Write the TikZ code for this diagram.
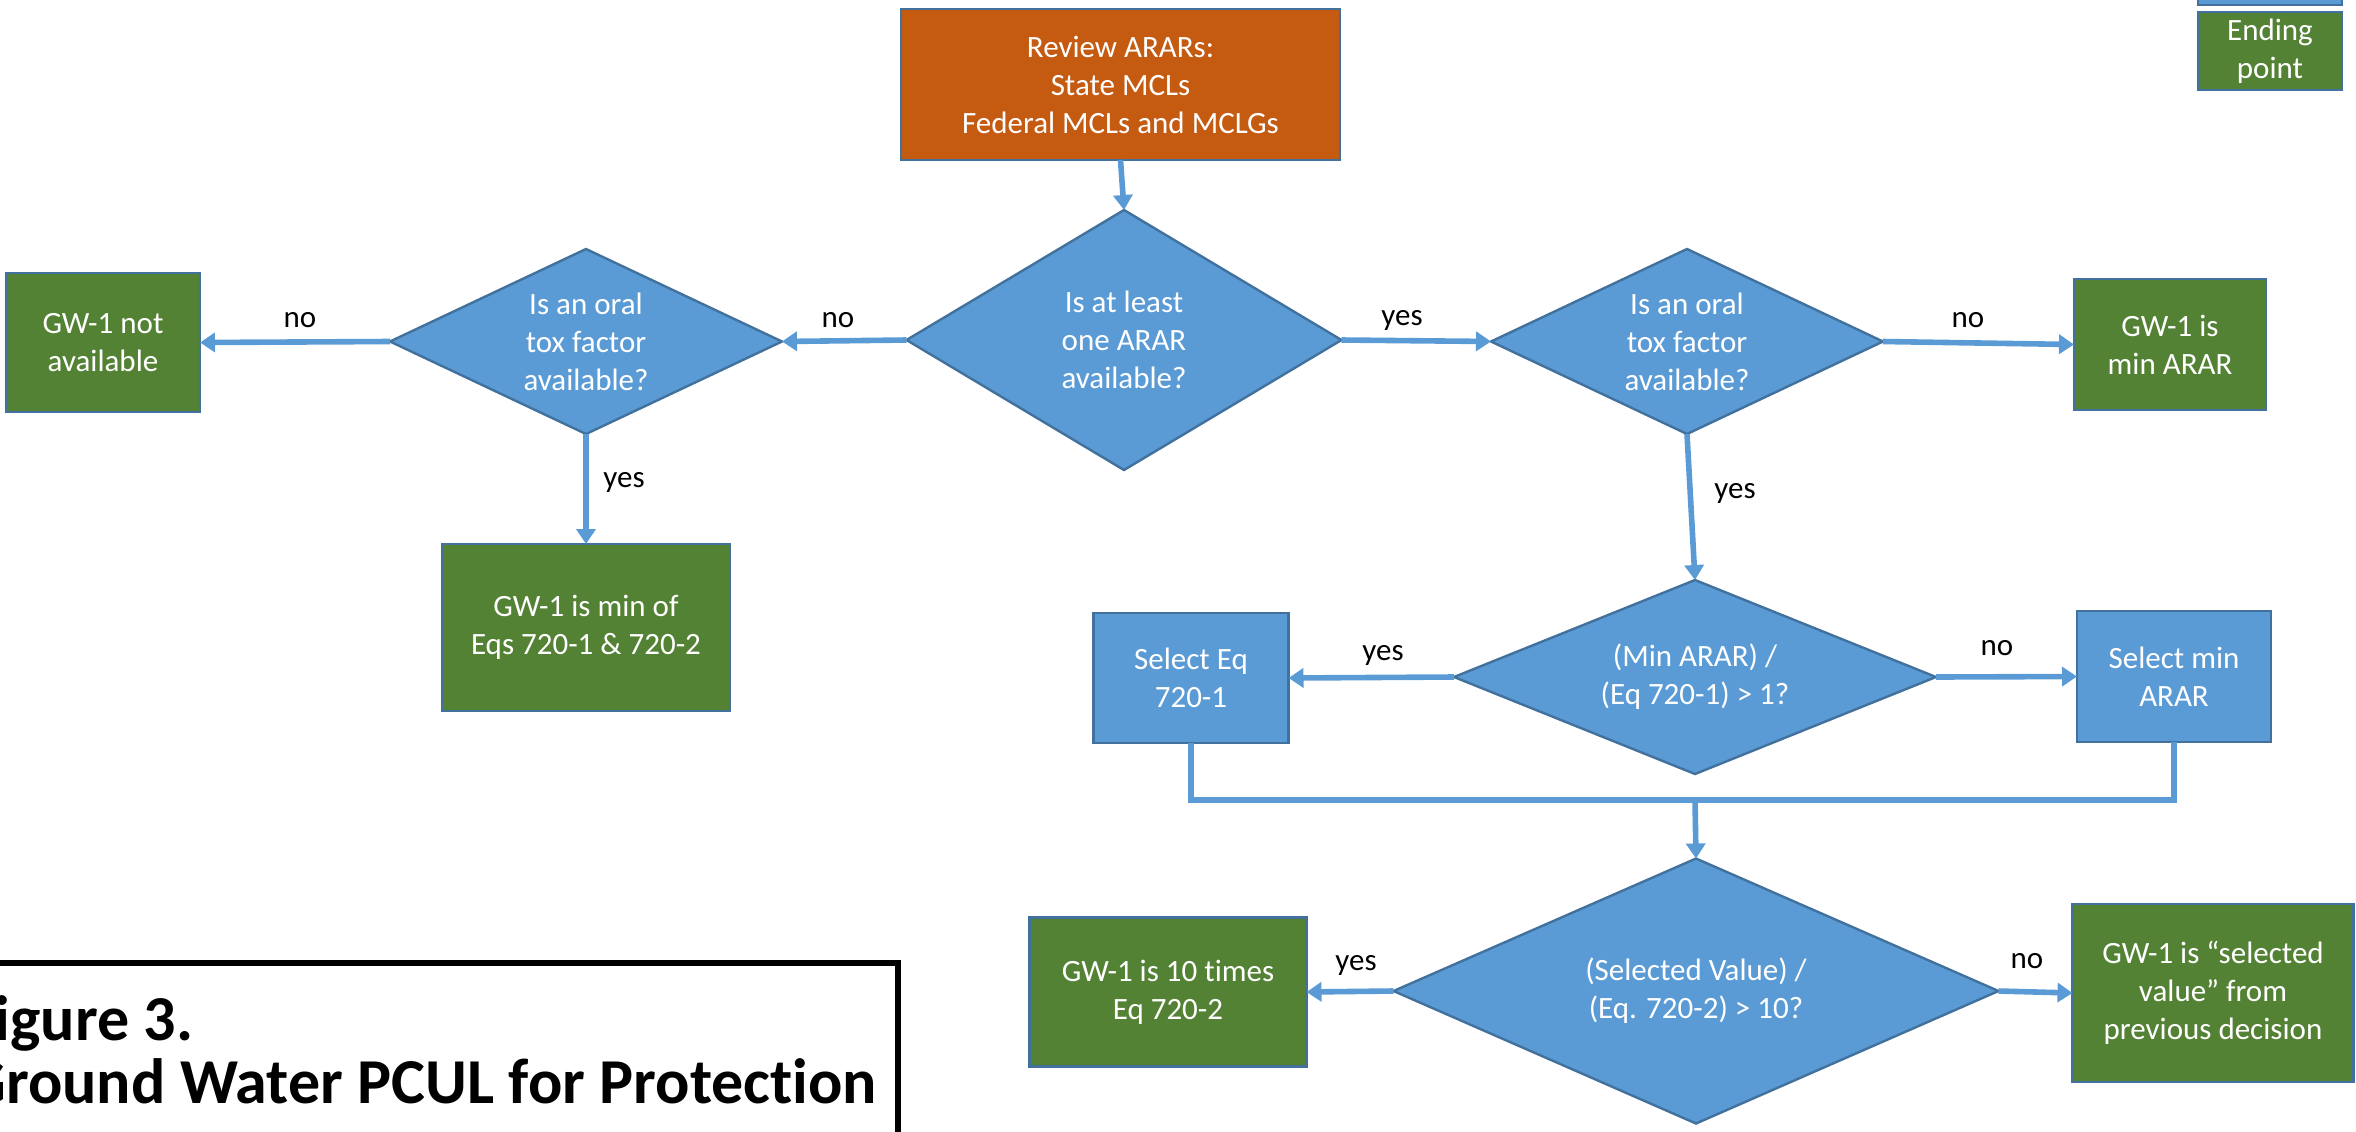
\documentclass[tikz,border=0pt]{standalone}
\usepackage{fontspec}
\setmainfont{Carlito}[Ligatures=NoCommon]
\usetikzlibrary{shapes.geometric,arrows.meta}

\definecolor{procblue}{HTML}{5B9BD5}
\definecolor{edgeblue}{HTML}{41719C}
\definecolor{endgreen}{HTML}{548235}
\definecolor{startorange}{HTML}{C55A11}

\tikzset{
  basebox/.style={draw=edgeblue, line width=1.2pt, inner sep=0pt, outer sep=0pt,
    text=white, align=center, font=\fontsize{15.5}{19}\selectfont},
  startbox/.style={basebox, fill=startorange, rectangle},
  procbox/.style={basebox, fill=procblue, rectangle},
  endbox/.style={basebox, fill=endgreen, rectangle},
  decision/.style={basebox, fill=procblue, diamond},
  dtext/.style={text=white, align=center, inner sep=0pt, font=\fontsize{15.5}{19}\selectfont},
  answer/.style={text=black, inner sep=0pt, font=\fontsize{15.5}{19}\selectfont},
  flow/.style={draw=procblue, line width=2.8pt, -{Triangle[width=9.5pt,length=7.5pt]}},
  joinline/.style={draw=procblue, line width=2.8pt, line join=miter},
  captionfont/.style={inner sep=0pt, font=\fontsize{32}{27.5}\selectfont\bfseries}
}

\begin{document}
\begin{tikzpicture}[x=0.5pt,y=-0.5pt]
\useasboundingbox (0,0) rectangle (2356,1131);
\clip (0,0) rectangle (2356,1131);

% legend
\node[procbox, minimum width=72pt, minimum height=35pt] (legproc) at (2270,-30) {};
\node[endbox, minimum width=72pt, minimum height=39pt] (legend) at (2270,51) {Ending\\point};

% start
\node[startbox, minimum width=219.5pt, minimum height=75.5pt] (review) at (1120.5,84.5)
  {Review ARARs:\\State MCLs\\Federal MCLs and MCLGs};

% first decision
\node[decision, minimum width=217.5pt, minimum height=130pt] (d1) at (1124,340) {};
\node[dtext] (d1t) at (d1) {Is at least\\one ARAR\\available?};

% left branch
\node[decision, minimum width=196pt, minimum height=92.5pt] (d2) at (586,341.5) {};
\node[dtext] (d2t) at (d2) {Is an oral\\tox factor\\available?};
\node[endbox, minimum width=97pt, minimum height=69.5pt] (notavail) at (103,342.5) {GW-1 not\\available};
\node[endbox, minimum width=144pt, minimum height=83.5pt] (minof) at (586,627.5) {GW-1 is min of\\Eqs 720-1 \& 720-2};

% right branch
\node[decision, minimum width=196pt, minimum height=92.5pt] (d3) at (1687,341.5) {};
\node[dtext] (d3t) at (d3) {Is an oral\\tox factor\\available?};
\node[endbox, minimum width=96pt, minimum height=65.5pt] (minarar) at (2170,344.5) {GW-1 is\\min ARAR};

\node[decision, minimum width=241pt, minimum height=97pt] (d4) at (1695,677) {};
\node[dtext] (d4t) at (d4) {(Min ARAR) /\\(Eq 720-1) > 1?};
\node[procbox, minimum width=97.5pt, minimum height=65pt] (seleq) at (1191,678) {Select Eq\\720-1};
\node[procbox, minimum width=97pt, minimum height=65.5pt] (selmin) at (2174,676.5) {Select min\\ARAR};

\node[decision, minimum width=302.5pt, minimum height=132.5pt] (d5) at (1696,991) {};
\node[dtext] (d5t) at (d5) {(Selected Value) /\\(Eq. 720-2) > 10?};
\node[endbox, minimum width=138.5pt, minimum height=74.5pt] (tentimes) at (1168,992) {GW-1 is 10 times\\Eq 720-2};
\node[endbox, minimum width=140.5pt, minimum height=89pt] (selval) at (2213,993)
  {GW-1 is “selected\\value” from\\previous decision};

% connectors
\draw[flow] (review.south) -- (d1.north);
\draw[flow] (d1.west) -- (d2.east);
\draw[flow] (d2.west) -- (notavail.east);
\draw[flow] (d2.south) -- (minof.north);
\draw[flow] (d1.east) -- (d3.west);
\draw[flow] (d3.east) -- (minarar.west);
\draw[flow] (d3.south) -- (d4.north);
\draw[flow] (d4.west) -- (seleq.east);
\draw[flow] (d4.east) -- (selmin.west);

\coordinate (mergeL) at (seleq.south |- 0,800);
\coordinate (mergeR) at (selmin.south |- 0,800);
\coordinate (mergeC) at (d4.south |- 0,800);
\draw[joinline] (seleq.south) -- (mergeL) -- (mergeR) -- (selmin.south);
\draw[flow] (mergeC) -- (d5.north);
\draw[flow] (d5.west) -- (tentimes.east);
\draw[flow] (d5.east) -- (selval.west);

% answers
\node[answer] (a1) at (300,320) {no};
\node[answer] (a2) at (838,320) {no};
\node[answer] (a3) at (624,482) {yes};
\node[answer] (a4) at (1402,320) {yes};
\node[answer] (a5) at (1968,320) {no};
\node[answer] (a6) at (1735,493) {yes};
\node[answer] (a7) at (1383,655) {yes};
\node[answer] (a8) at (1997,648) {no};
\node[answer] (a9) at (1356,965) {yes};
\node[answer] (a10) at (2027,961) {no};

% caption frame
\draw[line width=3pt, black] (-40,963) -- (898,963) -- (898,1200);
\node[captionfont, anchor=base west] (cap1) at (-35,1040) {Figure 3.};
\node[captionfont, anchor=base west] (cap2) at (-35,1103) {Ground Water PCUL for Protection};
\end{tikzpicture}
\end{document}
